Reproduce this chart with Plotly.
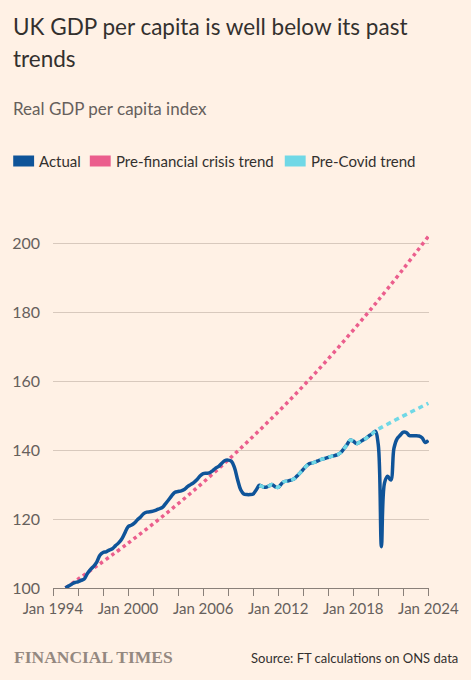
import pandas as pd
import plotly.graph_objects as go

# Real GDP per capita index, quarterly from Jan 1995
actual_start = "1995-01-01"
actual = [
    100.0, 100.6, 101.1, 101.6,   # 1995
    101.8, 102.2, 102.6, 104.2,   # 1996
    105.4, 106.3, 107.5, 109.5,   # 1997
    110.3, 110.5, 111.0, 111.4,   # 1998
    112.3, 113.1, 114.2, 116.0,   # 1999
    117.8, 118.2, 118.8, 119.8,   # 2000
    120.6, 121.6, 122.0, 122.1,   # 2001
    122.3, 122.6, 123.0, 123.4,   # 2002
    124.5, 125.6, 126.8, 127.8,   # 2003
    128.0, 128.2, 128.6, 129.4,   # 2004
    130.0, 130.6, 131.4, 132.5,   # 2005
    133.2, 133.3, 133.4, 134.0,   # 2006
    134.8, 135.3, 136.2, 137.0,   # 2007
    137.1, 136.8, 135.0, 131.5,   # 2008
    128.5, 127.3, 127.1, 127.1,   # 2009
    127.3, 128.5, 129.8, 129.4,   # 2010
    129.2, 129.6, 130.0, 129.4,   # 2011
    129.2, 130.2, 130.9, 131.0,   # 2012
    131.3, 131.6, 132.5, 133.4,   # 2013
    134.4, 135.4, 136.1, 136.3,   # 2014
    136.6, 137.0, 137.4, 137.6,   # 2015
    137.9, 138.2, 138.4, 138.7,   # 2016
    139.3, 140.4, 141.6, 142.9,   # 2017
    142.6, 141.9, 142.3, 142.9,   # 2018
    143.4, 144.1, 144.7, 145.5,   # 2019
    141.5, 112.0, 130.5, 132.4,   # 2020
    131.3, 140.5, 143.3, 144.3,   # 2021
    145.2, 145.1, 144.2, 144.2,   # 2022
    144.2, 144.1, 143.6, 142.2,   # 2023
    142.8,                        # 2024
]
actual_dates = pd.date_range(actual_start, periods=len(actual), freq="QS")

# Pre-financial crisis trend
fin_dates = ["1995-01-01", "2000-01-01", "2005-01-01", "2010-01-01", "2015-01-01", "2020-01-01", "2024-01-01"]
fin_trend = [100.0, 113.0, 127.5, 144.0, 162.5, 183.5, 202.0]

# Pre-Covid trend: follows actual from mid-2010 to end-2019, then projected
covid_from = "2010-07-01"
covid_to = "2019-10-01"
covid_end_date = "2024-01-01"
covid_end_value = 153.6

mask = (actual_dates >= covid_from) & (actual_dates <= covid_to)
covid_dates = list(actual_dates[mask]) + [pd.Timestamp(covid_end_date)]
covid_trend = [v for v, m in zip(actual, mask) if m] + [covid_end_value]

BG = "#FFF1E5"
DARK = "#33302E"
GREY = "#66605C"
BLUE = "#0F5499"
PINK = "#EB5E8D"
CYAN = "#70D8E6"

W, H = 471, 680
L, R, T, B = 51, 42, 233, 92
pw = W - L - R
ph = H - T - B


def px(x):
    return (x - L) / pw


def py(y):
    return (H - B - y) / ph


fig = go.Figure()
fig.add_trace(go.Scatter(x=fin_dates, y=fin_trend, mode="lines", line_shape="spline",
                         line=dict(color=PINK, width=3.5, dash="dot"), showlegend=False))
fig.add_trace(go.Scatter(x=actual_dates, y=actual, mode="lines", line_shape="spline",
                         line=dict(color=BLUE, width=3.5), showlegend=False))
fig.add_trace(go.Scatter(x=covid_dates, y=covid_trend, mode="lines", line_shape="spline",
                         line=dict(color=CYAN, width=3.5, dash="5px,4px"), showlegend=False))

# legend drawn by hand (square swatches)
legend_items = [("Actual", BLUE, 11), ("Pre-financial crisis trend", PINK, 88), ("Pre-Covid trend", CYAN, 284)]
for name, col, x0 in legend_items:
    fig.add_shape(type="rect", xref="paper", yref="paper", x0=px(x0), x1=px(x0 + 21),
                  y0=py(166.5), y1=py(155.5), fillcolor=col, line_width=0)
    fig.add_annotation(text=name, xref="paper", yref="paper", x=px(x0 + 24), y=py(161),
                       xanchor="left", yanchor="middle", showarrow=False,
                       font=dict(size=15, color=DARK))

title_lines = [("UK GDP per capita is well below its past", 26), ("trends", 58)]
for line, ypos in title_lines:
    fig.add_annotation(text=line, xref="paper", yref="paper",
                       x=px(9), y=py(ypos), xanchor="left", yanchor="middle", showarrow=False,
                       font=dict(size=22.5, color=DARK))
fig.add_annotation(text="Real GDP per capita index", xref="paper", yref="paper",
                   x=px(9), y=py(108), xanchor="left", yanchor="middle", showarrow=False,
                   font=dict(size=17, color=GREY))
fig.add_annotation(text="<b>FINANCIAL TIMES</b>", xref="paper", yref="paper",
                   x=px(10), y=py(657), xanchor="left", yanchor="middle", showarrow=False,
                   font=dict(size=17.5, color="#948880", family="Liberation Serif"))
fig.add_annotation(text="Source: FT calculations on ONS data", xref="paper", yref="paper",
                   x=px(460), y=py(658), xanchor="right", yanchor="middle", showarrow=False,
                   font=dict(size=13, color=DARK))

fig.update_layout(
    width=W, height=H,
    margin=dict(l=L, r=R, t=T, b=B),
    paper_bgcolor=BG, plot_bgcolor=BG,
    font=dict(family="Lato", color=GREY),
    showlegend=False,
)
fig.update_xaxes(
    type="date", range=["1994-01-01", "2024-01-20"],
    showgrid=False, zeroline=False,
    showline=True, linecolor="#8A8079", linewidth=1,
    ticks="outside", ticklen=7, tickcolor="#8A8079",
    tick0="1994-01-01", dtick="M72", tickformat="%b %Y",
    tickfont=dict(size=15, color=GREY),
    minor=dict(ticks="outside", ticklen=7, tickcolor="#8A8079", dtick="M24", tick0="1994-01-01"),
)
fig.update_yaxes(
    range=[100, 203], tickvals=[100, 120, 140, 160, 180, 200],
    showgrid=True, gridcolor="#D8C9BD", gridwidth=1, zeroline=False,
    ticks="", ticklabelstandoff=12,
    tickfont=dict(size=16, color=GREY),
)

# the page's default body margin would shift the figure by 8px
fig.write_html("out.html", config={"displayModeBar": False},
               post_script="document.body.style.margin='0px';")
